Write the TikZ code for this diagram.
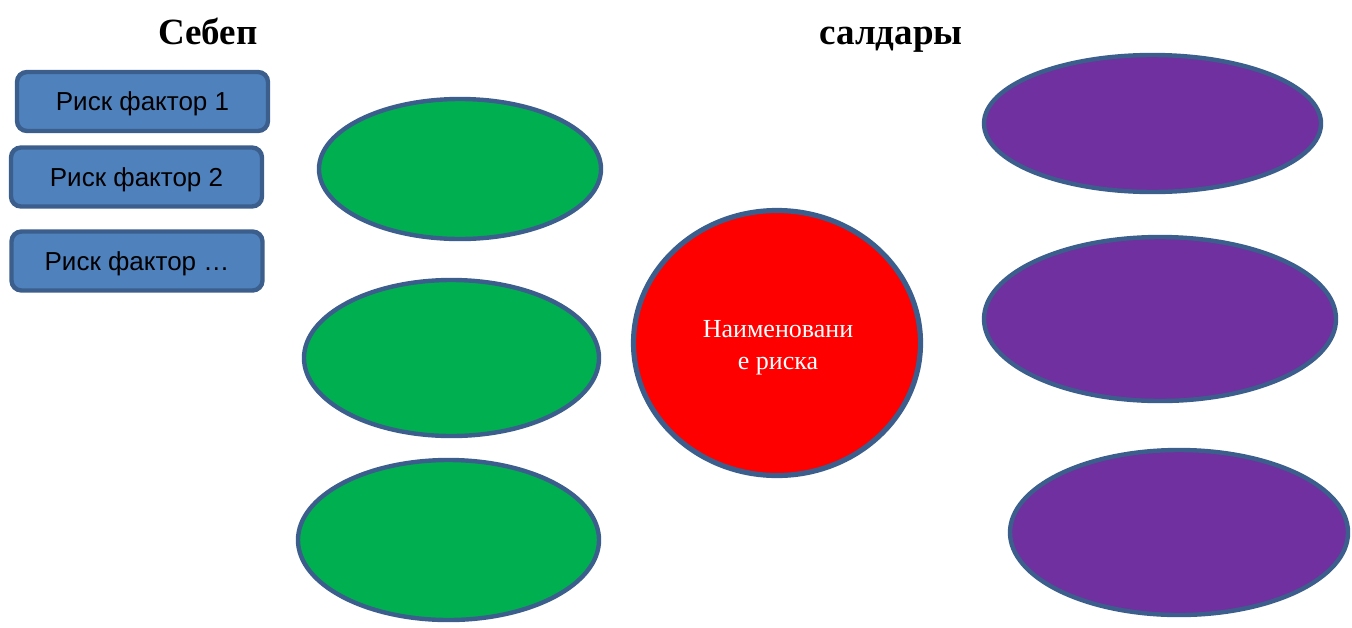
\documentclass[tikz,border=0pt]{standalone}
\usepackage{fontspec}
\setmainfont{Liberation Serif}
\newfontfamily\arialfont{Liberation Sans}
\usetikzlibrary{shapes.geometric}
\definecolor{edgeblue}{HTML}{3B5E8C}
\definecolor{boxblue}{HTML}{4F81BD}
\definecolor{causegreen}{HTML}{00B050}
\definecolor{effectpurple}{HTML}{7030A0}

\begin{document}
\begin{tikzpicture}[x=0.5pt,y=-0.5pt,
	factor/.style={draw=edgeblue, line width=2.2pt, fill=boxblue, rounded corners=5pt,
		minimum width=125.5pt, minimum height=29.5pt, inner sep=0pt, text depth=0pt,
		font=\arialfont\fontsize{13}{15}\selectfont},
	cause/.style={ellipse, draw=edgeblue, line width=2.2pt, fill=causegreen, inner sep=0pt},
	effect/.style={ellipse, draw=edgeblue, line width=2.2pt, fill=effectpurple, inner sep=0pt},
	heading/.style={anchor=base, font=\bfseries\fontsize{18.5}{22}\selectfont}]
				\useasboundingbox (0,0) rectangle (1352,627);
				
				\node[heading] (cause title) at (208,44) {Себеп};
				\node[heading] (effect title) at (891,44) {салдары};
				
				\node[factor] (f1) at (142.5,101.5) {Риск фактор 1};
				\node[factor] (f2) at (136.5,177) {Риск фактор 2};
				\node[factor] (f3) at (137,261) {Риск фактор \dots};
				
				\node[cause, minimum width=141pt, minimum height=70pt] (c1) at (460,169) {};
				\node[cause, minimum width=147.5pt, minimum height=78pt] (c2) at (451.5,358) {};
				\node[cause, minimum width=150.5pt, minimum height=80pt] (c3) at (448.5,540) {};
				
				\node[ellipse, draw=edgeblue, line width=2.6pt, fill=red,
					minimum width=143.5pt, minimum height=132.5pt, inner sep=0pt] (risk) at (777,343) {};
				\node[align=center, text=white, font=\fontsize{13}{15.8}\selectfont]
					(risk name) at (778,348) {Наименовани\\е риска};
				
				\node[effect, minimum width=168.5pt, minimum height=68.5pt] (e1) at (1152.5,123.5) {};
				\node[effect, minimum width=176pt, minimum height=82pt] (e2) at (1160,319) {};
				\node[effect, minimum width=169pt, minimum height=82.5pt] (e3) at (1179,532.5) {};
			\end{tikzpicture}
\end{document}
